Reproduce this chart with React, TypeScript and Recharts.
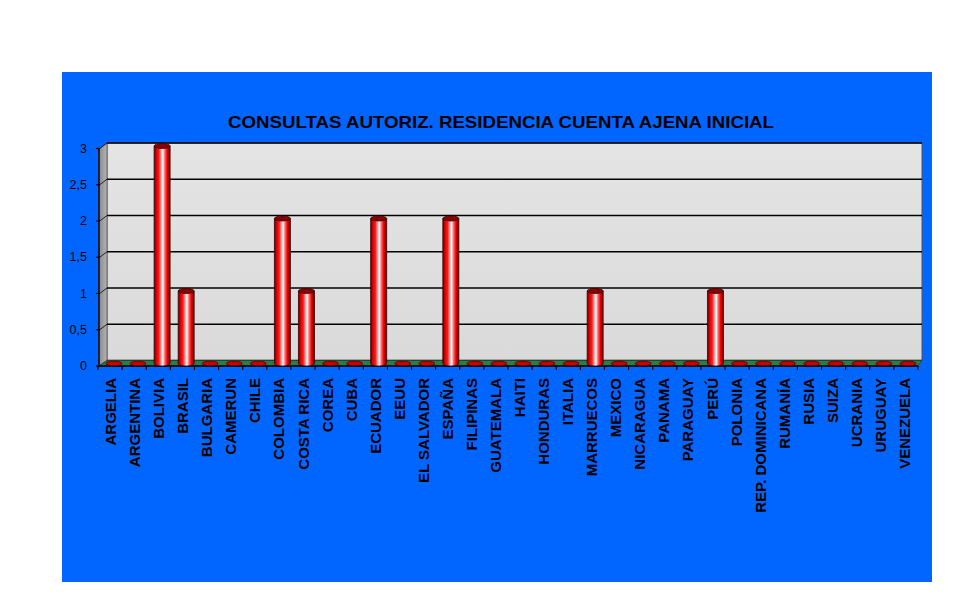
import { BarChart, Bar, XAxis, YAxis, ReferenceArea } from 'recharts';

const categories = [
  'ARGELIA', 'ARGENTINA', 'BOLIVIA', 'BRASIL', 'BULGARIA', 'CAMERUN', 'CHILE', 'COLOMBIA',
  'COSTA RICA', 'COREA', 'CUBA', 'ECUADOR', 'EEUU', 'EL SALVADOR', 'ESPAÑA', 'FILIPINAS',
  'GUATEMALA', 'HAITI', 'HONDURAS', 'ITALIA', 'MARRUECOS', 'MEXICO', 'NICARAGUA', 'PANAMA',
  'PARAGUAY', 'PERÚ', 'POLONIA', 'REP. DOMINICANA', 'RUMANÍA', 'RUSIA', 'SUIZA', 'UCRANIA',
  'URUGUAY', 'VENEZUELA',
];
const values = [
  0, 0, 3, 1, 0, 0, 0, 2,
  1, 0, 0, 2, 0, 0, 2, 0,
  0, 0, 0, 0, 1, 0, 0, 0,
  0, 1, 0, 0, 0, 0, 0, 0,
  0, 0,
];
const yTicks = [0, 0.5, 1, 1.5, 2, 2.5, 3];
const title = 'CONSULTAS AUTORIZ. RESIDENCIA CUENTA AJENA INICIAL';

const data = categories.map((name, i) => ({ name, value: values[i] }));

const FONT = '"Liberation Sans", Arial, sans-serif';

// 3d frame: back wall, side wall, floor, grid and front axes
function Frame(props: any) {
  const { x, y, width: w, height: h } = props;
  const bl = x + 5, br = x + w + 2, bt = y - 3, bb = y + h - 3; // back plane
  const fl = x - 3, fr = x + w - 2, ft = y + 3, fb = y + h + 2.5; // front plane
  const band = (w + 2) / categories.length;
  return (
    <g>
      <defs>
        <linearGradient id="cyl" x1="0" y1="0" x2="1" y2="0">
          <stop offset="0%" stopColor="#5a0000" />
          <stop offset="12%" stopColor="#d00000" />
          <stop offset="30%" stopColor="#ff1a1a" />
          <stop offset="45%" stopColor="#ffb0b0" />
          <stop offset="55%" stopColor="#ffffff" />
          <stop offset="66%" stopColor="#ff7070" />
          <stop offset="82%" stopColor="#f00000" />
          <stop offset="100%" stopColor="#600000" />
        </linearGradient>
        <linearGradient id="wall" x1="0" y1="0" x2="0" y2="1">
          <stop offset="0%" stopColor="#e4e4e4" />
          <stop offset="100%" stopColor="#dadada" />
        </linearGradient>
        <linearGradient id="side" x1="0" y1="0" x2="1" y2="0">
          <stop offset="0%" stopColor="#8a8a8a" />
          <stop offset="100%" stopColor="#b4b4b4" />
        </linearGradient>
      </defs>
      <rect x={bl} y={bt} width={br - bl} height={bb - bt} fill="url(#wall)" stroke="#555" strokeWidth={1} />
      <polygon points={`${fl},${ft} ${bl},${bt} ${bl},${bb} ${fl},${fb}`} fill="url(#side)" stroke="#555" strokeWidth={0.8} />
      {yTicks.map((v) => {
        const yy = bt + (bb - bt) * (1 - v / 3);
        return (
          <g key={v}>
            <line x1={bl} x2={br} y1={yy} y2={yy} stroke="#000" strokeWidth={1.4} />
            <line x1={fl} x2={bl} y1={yy + 6} y2={yy} stroke="#222" strokeWidth={1} />
          </g>
        );
      })}
      <polygon points={`${fl},${fb} ${bl},${bb} ${br},${bb} ${fr},${fb}`} fill="#2f7a4c" stroke="#1d4a2e" strokeWidth={0.8} />
      <line x1={fl} x2={fl} y1={ft} y2={fb} stroke="#000" strokeWidth={1.4} />
      <line x1={x - 4} x2={fr} y1={fb} y2={fb} stroke="#000" strokeWidth={1.6} />
      {categories.map((c, i) => (
        <line key={c} x1={x - 4 + i * band} x2={x - 4 + i * band} y1={fb} y2={fb + 4} stroke="#000" strokeWidth={1.2} />
      ))}
      <line x1={x - 4 + categories.length * band} x2={x - 4 + categories.length * band} y1={fb} y2={fb + 4} stroke="#000" strokeWidth={1.2} />
    </g>
  );
}

function Cylinder(props: any) {
  const { x, y, width: w, height: h } = props;
  const cx = x + w / 2;
  if (!h) {
    return <ellipse cx={cx} cy={y} rx={w / 2} ry={2.3} fill="#c80000" stroke="#4a0000" strokeWidth={0.8} />;
  }
  return (
    <g>
      <path
        d={`M${x},${y} L${x},${y + h} A${w / 2},2.5 0 0 0 ${x + w},${y + h} L${x + w},${y} Z`}
        fill="url(#cyl)"
        stroke="#3a0000"
        strokeWidth={0.8}
      />
      <ellipse cx={cx} cy={y} rx={w / 2} ry={2.5} fill="#8a0000" stroke="#3a0000" strokeWidth={0.8} />
    </g>
  );
}

function YTick(props: any) {
  const { y, payload } = props;
  const yy = y + 2.5;
  return (
    <g>
      <line x1={34} x2={38} y1={yy} y2={yy} stroke="#000" strokeWidth={1.2} />
      <text x={25} y={yy} textAnchor="end" dominantBaseline="central" fontSize={12.5} fontFamily={FONT} fill="#000">
        {String(payload.value).replace('.', ',')}
      </text>
    </g>
  );
}

function XTick(props: any) {
  const { x, payload } = props;
  return (
    <text
      transform={`translate(${x - 3.5}, 306) rotate(-90)`}
      textAnchor="end"
      dominantBaseline="central"
      fontSize={15}
      fontWeight="bold"
      fontFamily={FONT}
      fill="#000"
    >
      {payload.value}
    </text>
  );
}

export default function App() {
  return (
    <div style={{ position: 'absolute', left: 0, top: 0, width: 969, height: 604, background: '#fff' }}>
      <div style={{ position: 'absolute', left: 62, top: 72, width: 870, height: 510, background: '#0066ff' }}>
        <svg width={870} height={70} style={{ position: 'absolute', left: 0, top: 0 }}>
          <text
            x={439}
            y={56}
            textAnchor="middle"
            fontSize={17}
            fontWeight="bold"
            fontFamily={FONT}
            textLength={546}
            lengthAdjust="spacingAndGlyphs"
            fill="#000"
          >
            {title}
          </text>
        </svg>
        <div style={{ position: 'absolute', left: 0, top: 0 }}>
          <BarChart
            width={870}
            height={510}
            data={data}
            margin={{ top: 74, right: 12, left: 10, bottom: 68.5 }}
            barCategoryGap={0}
          >
            <XAxis dataKey="name" interval={0} height={150} tick={<XTick />} tickLine={false} axisLine={false} />
            <YAxis domain={[0, 3]} ticks={yTicks} width={30} tick={<YTick />} tickLine={false} axisLine={false} />
            <ReferenceArea y1={0} y2={3} ifOverflow="visible" shape={<Frame />} />
            <Bar dataKey="value" barSize={16} shape={<Cylinder />} isAnimationActive={false} />
          </BarChart>
        </div>
      </div>
    </div>
  );
}
